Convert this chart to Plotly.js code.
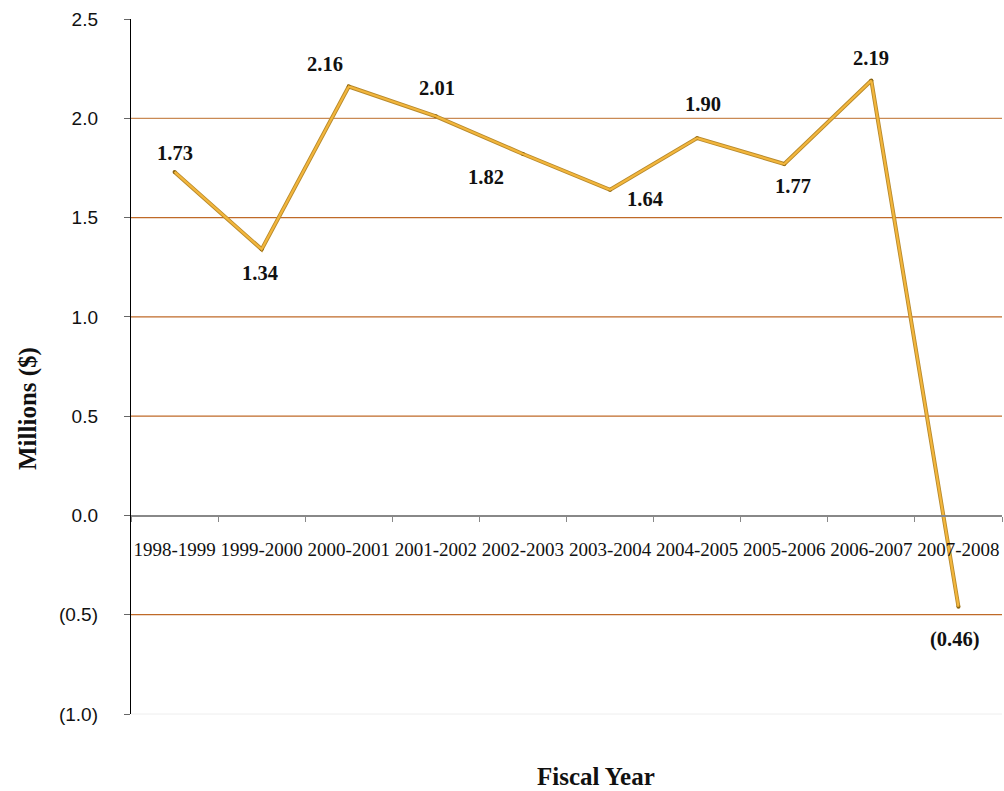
<!DOCTYPE html>
<html>
<head>
<meta charset="utf-8">
<script src="https://cdn.plot.ly/plotly-3.0.1.min.js"></script>
<style>
  html, body { margin: 0; padding: 0; background: #fff; }
  #chart { width: 1004px; height: 791px; }
</style>
</head>
<body>
<div id="chart"></div>
<script>
// Fiscal years and net result (millions of dollars)
const fiscalYears = ['1998-1999', '1999-2000', '2000-2001', '2001-2002', '2002-2003',
                     '2003-2004', '2004-2005', '2005-2006', '2006-2007', '2007-2008'];
const netMillions = [1.73, 1.34, 2.16, 2.01, 1.82, 1.64, 1.90, 1.77, 2.19, -0.46];

// Value axis ticks and guide lines
const yTickValues = [-1.0, -0.5, 0.0, 0.5, 1.0, 1.5, 2.0, 2.5];
const gridValues = [-0.5, 0.5, 1.0, 1.5, 2.0];

// Pixel offsets of each value label from its point [dx, dy]
const labelShift = [[0, 19], [-2, -24], [-24, 23], [1, 28], [-37, -23],
                    [35, -9], [6, 34], [9, -22], [0, 23], [-3, -33]];

const fmt = v => v < 0 ? '(' + Math.abs(v).toFixed(2) + ')' : v.toFixed(2);
const fmtTick = v => v < 0 ? '(' + Math.abs(v).toFixed(1) + ')' : v.toFixed(1);

const yMin = -1.0, yMax = 2.5;
const serif = '"Liberation Serif", "Times New Roman", serif';
const sans = '"Liberation Sans", Arial, sans-serif';

const traces = [
  {
    x: fiscalYears, y: netMillions, type: 'scatter', mode: 'lines+markers',
    line: { color: '#b88a2c', width: 4 },
    marker: { color: '#8a6410', size: 4 },
    hoverinfo: 'skip', showlegend: false
  },
  {
    x: fiscalYears, y: netMillions, type: 'scatter', mode: 'lines',
    line: { color: '#f3b63c', width: 2.2 },
    hoverinfo: 'skip', showlegend: false
  }
];

const shapes = gridValues.map(v => ({
  type: 'line', xref: 'paper', yref: 'y', x0: 0, x1: 1, y0: v, y1: v,
  line: { color: v === 2.0 ? '#c98a55' : '#bf6a28', width: 1.3 }, layer: 'below'
}));
shapes.push({
  type: 'line', xref: 'paper', yref: 'paper', x0: 0, x1: 1, y0: 0, y1: 0,
  line: { color: '#eeeeee', width: 1 }, layer: 'below'
});

const annotations = netMillions.map((v, i) => ({
  x: fiscalYears[i], y: v, xref: 'x', yref: 'y',
  xanchor: 'center', yanchor: 'middle',
  text: '<b>' + fmt(v) + '</b>', showarrow: false,
  xshift: labelShift[i][0], yshift: labelShift[i][1],
  font: { family: serif, size: 20.5, color: '#111' }
}));
annotations.push({
  xref: 'paper', yref: 'paper', x: (28 - 131) / 871, y: (714 - 409) / 695,
  xanchor: 'center', yanchor: 'middle',
  text: '<b>Millions ($)</b>', textangle: -90, showarrow: false,
  font: { family: serif, size: 25, color: '#111' }
});
annotations.push({
  xref: 'paper', yref: 'paper', x: (596 - 131) / 871, y: (714 - 776) / 695,
  xanchor: 'center', yanchor: 'middle',
  text: '<b>Fiscal Year</b>', showarrow: false,
  font: { family: serif, size: 25, color: '#111' }
});

const layout = {
  width: 1004, height: 791,
  margin: { l: 131, r: 2, t: 19, b: 77 },
  paper_bgcolor: '#fff', plot_bgcolor: '#fff',
  showlegend: false,
  xaxis: {
    type: 'category', range: [-0.5, fiscalYears.length - 0.5],
    anchor: 'free', position: (0 - yMin) / (yMax - yMin),
    showline: true, linecolor: '#888', linewidth: 1.5,
    ticks: 'outside', tickson: 'boundaries', ticklen: 5, tickcolor: '#888', tickwidth: 1,
    showgrid: false, zeroline: false, tickangle: 0,
    tickfont: { family: serif, size: 19, color: '#111' },
    ticklabelstandoff: 16
  },
  yaxis: {
    range: [yMin, yMax], tickvals: yTickValues, ticktext: yTickValues.map(fmtTick),
    showline: true, linecolor: '#000', linewidth: 1.2,
    ticks: 'outside', ticklen: 6, tickcolor: '#666', tickwidth: 1,
    showgrid: false, zeroline: false,
    tickfont: { family: sans, size: 19, color: '#111' },
    ticklabelstandoff: 22
  },
  shapes: shapes,
  annotations: annotations
};

Plotly.newPlot('chart', traces, layout, { staticPlot: true, displayModeBar: false });
</script>
</body>
</html>
